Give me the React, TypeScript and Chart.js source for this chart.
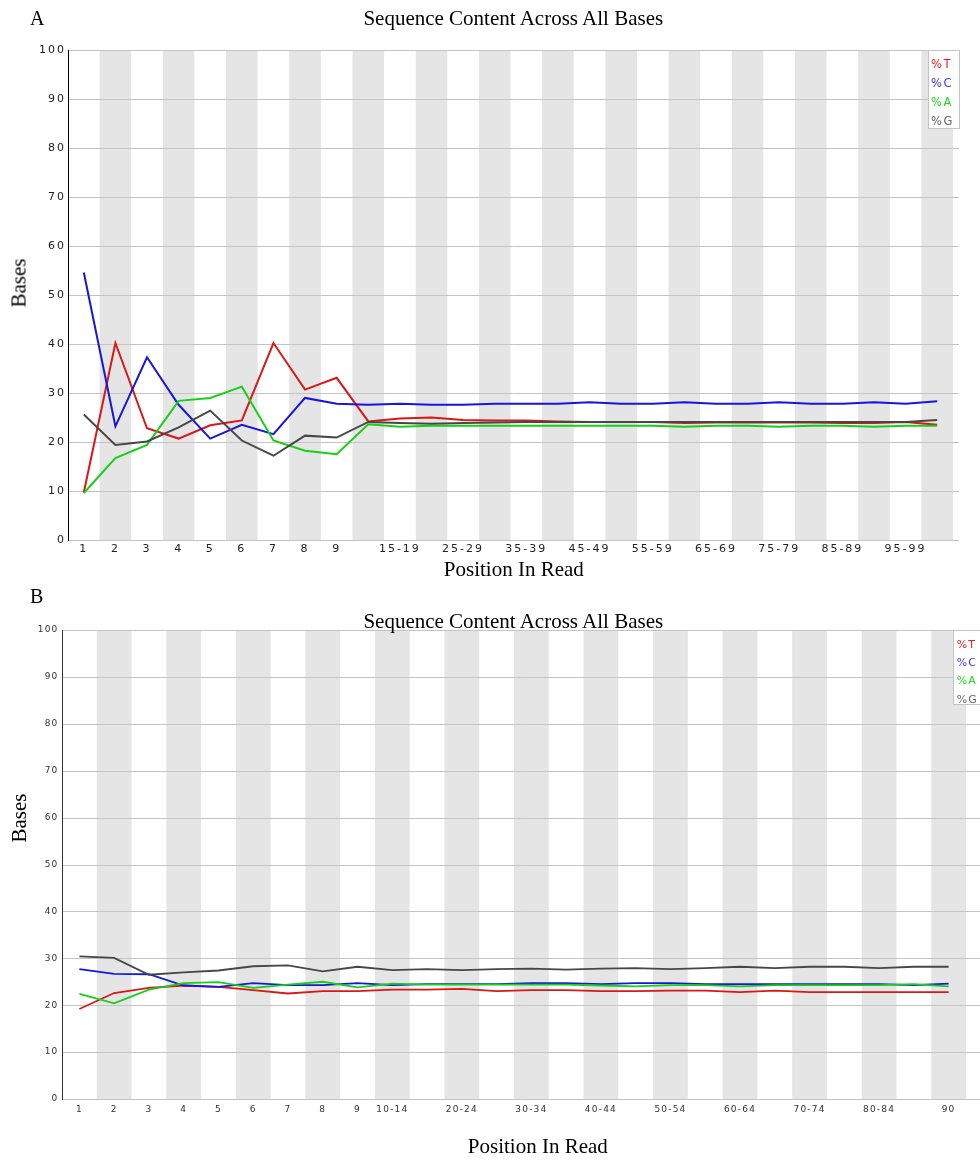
import React, { useEffect, useRef } from 'react';
import { Chart, registerables } from 'chart.js';

Chart.register(...registerables);

// ---------- Data: chart A ----------
const categoriesA = [
  '1', '2', '3', '4', '5', '6', '7', '8', '9',
  '10-14', '15-19', '20-24', '25-29', '30-34', '35-39', '40-44', '45-49',
  '50-54', '55-59', '60-64', '65-69', '70-74', '75-79', '80-84', '85-89',
  '90-94', '95-99', '100-101',
];
const tickLabelsA = [
  '1', '2', '3', '4', '5', '6', '7', '8', '9',
  '', '15-19', '', '25-29', '', '35-39', '', '45-49',
  '', '55-59', '', '65-69', '', '75-79', '', '85-89',
  '', '95-99', '',
];
const tA = [9.7, 40.2, 22.8, 20.7, 23.4, 24.4, 40.2, 30.7, 33.1, 24.2, 24.8, 25.0, 24.5, 24.4, 24.4, 24.2, 24.1, 24.1, 24.1, 23.9, 24.0, 24.0, 24.0, 24.0, 23.9, 23.9, 24.1, 23.5];
const cA = [54.6, 23.2, 37.3, 27.6, 20.7, 23.5, 21.6, 29.0, 27.8, 27.6, 27.8, 27.6, 27.6, 27.8, 27.8, 27.8, 28.1, 27.8, 27.8, 28.1, 27.8, 27.8, 28.1, 27.8, 27.8, 28.1, 27.8, 28.3];
const aA = [9.6, 16.7, 19.4, 28.4, 29.0, 31.3, 20.3, 18.2, 17.5, 23.6, 23.1, 23.3, 23.3, 23.3, 23.3, 23.3, 23.3, 23.3, 23.3, 23.1, 23.3, 23.3, 23.1, 23.3, 23.3, 23.1, 23.3, 23.3];
const gA = [25.6, 19.4, 20.1, 23.0, 26.4, 20.3, 17.2, 21.3, 20.9, 24.1, 23.9, 23.7, 23.9, 24.0, 24.1, 24.1, 24.1, 24.1, 24.1, 24.1, 24.1, 24.1, 24.1, 24.1, 24.1, 24.1, 24.1, 24.5];

// ---------- Data: chart B ----------
const categoriesB = [
  '1', '2', '3', '4', '5', '6', '7', '8', '9',
  '10-14', '15-19', '20-24', '25-29', '30-34', '35-39', '40-44', '45-49',
  '50-54', '55-59', '60-64', '65-69', '70-74', '75-79', '80-84', '85-89', '90',
];
const tickLabelsB = [
  '1', '2', '3', '4', '5', '6', '7', '8', '9',
  '10-14', '', '20-24', '', '30-34', '', '40-44', '',
  '50-54', '', '60-64', '', '70-74', '', '80-84', '', '90',
];
const tB = [19.2, 22.6, 23.7, 24.2, 23.9, 23.2, 22.5, 23.0, 23.0, 23.3, 23.3, 23.5, 23.0, 23.2, 23.2, 23.0, 23.0, 23.1, 23.1, 22.8, 23.1, 22.8, 22.8, 22.8, 22.8, 22.8];
const cB = [27.7, 26.7, 26.6, 24.2, 23.9, 24.7, 24.3, 24.3, 24.7, 24.3, 24.5, 24.5, 24.5, 24.7, 24.7, 24.5, 24.7, 24.7, 24.5, 24.5, 24.5, 24.5, 24.5, 24.5, 24.3, 24.6];
const aB = [22.4, 20.4, 23.3, 24.7, 24.9, 23.7, 24.4, 25.0, 23.8, 24.6, 24.4, 24.4, 24.4, 24.4, 24.4, 24.2, 24.0, 24.3, 24.3, 24.0, 24.3, 24.3, 24.3, 24.3, 24.5, 24.0];
const gB = [30.4, 30.1, 26.5, 27.0, 27.4, 28.3, 28.5, 27.2, 28.2, 27.5, 27.7, 27.5, 27.7, 27.8, 27.6, 27.8, 27.9, 27.7, 27.9, 28.2, 27.9, 28.2, 28.2, 27.9, 28.2, 28.2];

const seriesNames = ['%T', '%C', '%A', '%G'];
const seriesColors = ['#dc1616', '#1616dc', '#16d016', '#474747'];
const legendColors = ['#e82020', '#3a3aee', '#20d820', '#666666'];

const yTicks = { min: 0, max: 100, step: 10 };

const SANS = '"DejaVu Sans", sans-serif';
const SERIF = '"Liberation Serif", "Times New Roman", serif';

type Opts = {
  labels: string[];
  tickLabels: string[];
  values: number[][];
  padding: { left: number; top: number; right: number; bottom: number };
  yWidth: number;
  xHeight: number;
  tickSize: number;
  tickLs: string;
  tickColor: string;
  yPad: number;
  xPad: number;
  lineWidth: number;
  bandColor: string;
  gridColor: string;
  gridExtend: number;
  axisColor: string;
  legend: {
    left: number; right: number; height: number; textDx: number;
    first: number; gap: number; size: number; ls: string;
  };
};

const backdropPlugin = {
  id: 'fastqcBackdrop',
  beforeDraw(chart: any, _a: any, o: any) {
    const { ctx, chartArea } = chart;
    const xs = chart.scales.x;
    const ys = chart.scales.y;
    const n = chart.data.labels.length;
    const w = (chartArea.right - chartArea.left) / n;
    ctx.save();
    ctx.fillStyle = o.bandColor;
    for (let i = 1; i < n; i += 2) {
      const c = xs.getPixelForValue(i);
      ctx.fillRect(c - w / 2, chartArea.top, w, chartArea.bottom - chartArea.top);
    }
    ctx.strokeStyle = o.gridColor;
    ctx.lineWidth = 1;
    for (const t of ys.ticks) {
      const py = Math.round(ys.getPixelForValue(t.value)) + 0.5;
      ctx.beginPath();
      ctx.moveTo(chartArea.left, py);
      ctx.lineTo(chartArea.right + o.gridExtend, py);
      ctx.stroke();
    }
    ctx.restore();
    ctx.letterSpacing = o.tickLs;
  },
  afterDraw(chart: any, _a: any, o: any) {
    const { ctx, chartArea } = chart;
    const L = o.legend;
    const x0 = Math.round(chartArea.right + L.left) + 0.5;
    const x1 = Math.round(chartArea.right + L.right) + 0.5;
    const y0 = Math.round(chartArea.top) + 0.5;
    const y1 = Math.round(chartArea.top + L.height) + 0.5;
    ctx.save();
    ctx.letterSpacing = '0px';
    ctx.fillStyle = '#ffffff';
    ctx.fillRect(x0, y0, x1 - x0, y1 - y0);
    ctx.strokeStyle = o.gridColor;
    ctx.lineWidth = 1;
    ctx.strokeRect(x0, y0, x1 - x0, y1 - y0);
    ctx.letterSpacing = L.ls;
    ctx.font = `${L.size}px ${SANS}`;
    ctx.textAlign = 'left';
    ctx.textBaseline = 'alphabetic';
    chart.data.datasets.forEach((ds: any, i: number) => {
      ctx.fillStyle = o.legendColors[i];
      ctx.fillText(ds.label, x0 + L.textDx, chartArea.top + L.first + i * L.gap);
    });
    ctx.restore();
  },
};

function buildConfig(p: Opts): any {
  return {
    type: 'line',
    data: {
      labels: p.labels,
      datasets: p.values.map((vals, i) => ({
        label: seriesNames[i],
        data: vals,
        borderColor: seriesColors[i],
        backgroundColor: seriesColors[i],
        borderWidth: p.lineWidth,
        pointRadius: 0,
        tension: 0,
        fill: false,
        order: 4 - i,
      })),
    },
    options: {
      responsive: false,
      animation: false,
      events: [],
      layout: { padding: p.padding },
      plugins: {
        legend: { display: false },
        tooltip: { enabled: false },
        title: { display: false },
        fastqcBackdrop: {
          bandColor: p.bandColor,
          gridColor: p.gridColor,
          gridExtend: p.gridExtend,
          tickLs: p.tickLs,
          legend: p.legend,
          legendColors,
        },
      },
      scales: {
        x: {
          type: 'category',
          offset: true,
          grid: { display: false, drawTicks: false },
          border: { display: false },
          ticks: {
            autoSkip: false,
            maxRotation: 0,
            minRotation: 0,
            padding: p.xPad,
            color: p.tickColor,
            font: { family: SANS, size: p.tickSize },
            callback: (_v: any, i: number) => p.tickLabels[i],
          },
          afterFit: (s: any) => { s.height = p.xHeight; },
        },
        y: {
          min: yTicks.min,
          max: yTicks.max,
          grid: { display: false, drawTicks: false },
          border: { display: true, color: p.axisColor, width: 1 },
          ticks: {
            stepSize: yTicks.step,
            padding: p.yPad,
            color: p.tickColor,
            font: { family: SANS, size: p.tickSize },
          },
          afterFit: (s: any) => { s.width = p.yWidth; },
        },
      },
    },
    plugins: [backdropPlugin],
  };
}

const optsA: Opts = {
  labels: categoriesA,
  tickLabels: tickLabelsA,
  values: [tA, cA, aA, gA],
  padding: { left: 0, top: 50, right: 27, bottom: 0 },
  yWidth: 68,
  xHeight: 50,
  tickSize: 11,
  tickLs: '2px',
  tickColor: '#222222',
  yPad: 2,
  xPad: 3,
  lineWidth: 2,
  bandColor: '#e5e5e5',
  gridColor: '#c4c4c4',
  gridExtend: 6,
  axisColor: '#000000',
  legend: { left: -25, right: 6, height: 78, textDx: 2.5, first: 18.3, gap: 19, size: 11.5, ls: '1.5px' },
};

const optsB: Opts = {
  labels: categoriesB,
  tickLabels: tickLabelsB,
  values: [tB, cB, aB, gB],
  padding: { left: 0, top: 40, right: 14, bottom: 0 },
  yWidth: 62,
  xHeight: 63,
  tickSize: 9,
  tickLs: '1.2px',
  tickColor: '#333333',
  yPad: 3.5,
  xPad: 5,
  lineWidth: 1.8,
  bandColor: '#e5e5e5',
  gridColor: '#c4c4c4',
  gridExtend: 16,
  axisColor: '#333333',
  legend: { left: -12.7, right: 20, height: 74, textDx: 3.2, first: 17.7, gap: 18.3, size: 11, ls: '1.2px' },
};

function ChartCanvas({ opts, top, height }: { opts: Opts; top: number; height: number }) {
  const ref = useRef<HTMLCanvasElement>(null);
  useEffect(() => {
    if (!ref.current) return;
    const chart = new Chart(ref.current, buildConfig(opts));
    return () => chart.destroy();
  }, [opts]);
  return (
    <canvas
      ref={ref}
      width={980}
      height={height}
      style={{ position: 'absolute', left: 0, top, width: 980, height, display: 'block' }}
    />
  );
}

const textBase: React.CSSProperties = {
  position: 'absolute',
  fontFamily: SERIF,
  color: '#000',
  whiteSpace: 'nowrap',
  margin: 0,
};

function Txt({ text, x, baseline, size, center }: { text: string; x: number; baseline: number; size: number; center?: boolean }) {
  return (
    <div
      style={{
        ...textBase,
        left: x,
        top: baseline - 0.8375 * size,
        fontSize: size,
        lineHeight: `${size}px`,
        transform: center ? 'translateX(-50%)' : undefined,
      }}
    >
      {text}
    </div>
  );
}

function VTxt({ text, cx, cy, size }: { text: string; cx: number; cy: number; size: number }) {
  return (
    <div
      style={{
        ...textBase,
        left: cx,
        top: cy,
        fontSize: size,
        lineHeight: `${size}px`,
        transform: 'translate(-50%, -50%) rotate(-90deg)',
      }}
    >
      {text}
    </div>
  );
}

export default function App() {
  return (
    <div style={{ position: 'absolute', left: 0, top: 0, width: 980, height: 1162, background: '#fff', overflow: 'hidden' }}>
      <ChartCanvas opts={optsA} top={0} height={590} />
      <ChartCanvas opts={optsB} top={590} height={572} />
      <Txt text="A" x={30} baseline={25} size={20} />
      <Txt text="Sequence Content Across All Bases" x={513.3} baseline={25.5} size={21} center />
      <Txt text="Position In Read" x={513.8} baseline={577} size={21} center />
      <VTxt text="Bases" cx={18.9} cy={283} size={21} />
      <Txt text="B" x={30} baseline={603} size={20} />
      <Txt text="Sequence Content Across All Bases" x={513.3} baseline={628.3} size={21} center />
      <Txt text="Position In Read" x={537.8} baseline={1154} size={21} center />
      <VTxt text="Bases" cx={18.9} cy={818} size={21} />
    </div>
  );
}
